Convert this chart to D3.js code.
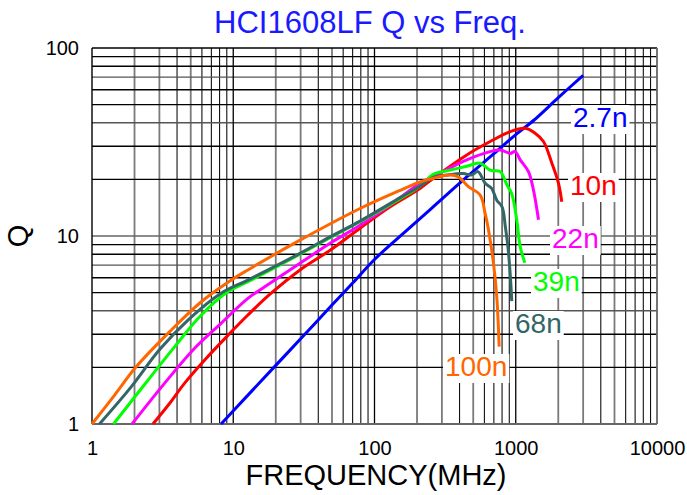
<!DOCTYPE html>
<html><head><meta charset="utf-8">
<script src="https://cdn.jsdelivr.net/npm/d3@7"></script>
<style>html,body{margin:0;padding:0;background:#fff;}svg{display:block;}</style>
</head><body>
<svg id="chart" width="687" height="495"></svg>
<script>
// ---- data ----
const xTickLabels = [1, 10, 100, 1000, 10000];
const yTickLabels = [1, 10, 100];

const f2n7 = [8.2, 12, 20, 30, 50, 70, 100, 150, 250, 450, 700, 1000, 1350, 2000, 3000];
const q2n7 = [1, 1.36, 2.05, 2.84, 4.29, 5.62, 7.5, 9.9, 13.9, 20.6, 27.4, 34.6, 41.4, 54.4, 71.6];

const f10n = [2.7, 3.55, 4.53, 6.28, 9.2, 12.7, 18.2, 29.7, 48.5, 79, 129, 210, 261, 450, 659, 912, 1167, 1371, 1571, 1802, 2006, 2118];
const q10n = [1, 1.29, 1.65, 2.19, 2.97, 3.8, 4.9, 6.6, 8.4, 11.0, 14.3, 17.9, 20.3, 27, 31.8, 35.9, 37.4, 35.2, 31.8, 24.4, 19.1, 15.2];

const f22n = [1.92, 3.27, 5.33, 8.2, 12.7, 18.2, 29.7, 48.5, 79, 129, 210, 261, 450, 659, 777, 912, 990, 1075, 1230, 1334, 1449];
const q22n = [1, 1.65, 2.53, 3.43, 4.66, 5.6, 7.16, 9.15, 11.4, 14.6, 19.1, 20.7, 25.4, 28.1, 28.7, 27.5, 28.1, 25.4, 22, 17.6, 12.2];

const f39n = [1.42, 2.49, 3.85, 5.94, 9.2, 12.7, 29.7, 48.5, 79, 152, 210, 261, 343, 450, 560, 659, 777, 865, 937, 1016, 1075, 1160];
const q39n = [1, 1.71, 2.58, 3.8, 5.06, 5.71, 8.0, 9.8, 11.9, 15.8, 18.4, 21.3, 22.4, 23.5, 24.4, 22.4, 22.0, 18.7, 16.8, 12.2, 8.8, 7.2];

const f68n = [1.13, 1.9, 3.0, 4.78, 8.2, 12.7, 29.7, 48.5, 79, 152, 210, 261, 325, 424, 486, 540, 607, 675, 734, 800, 844, 888, 937];
const q68n = [1, 1.58, 2.48, 3.57, 4.96, 5.83, 8.09, 9.9, 12.0, 16.0, 18.4, 20.5, 21.1, 21.5, 21.1, 22, 19.1, 17.9, 15.5, 14.3, 11.2, 8.2, 4.5];

const f100n = [1, 1.45, 2.06, 3.55, 5.94, 9.7, 12.7, 29.7, 79, 152, 210, 261, 343, 393, 462, 560, 607, 641, 695, 734, 763];
const q100n = [1, 1.43, 2.02, 3.1, 4.47, 5.83, 6.6, 9.5, 14.0, 17.5, 19.4, 20.3, 21.1, 20.6, 18.3, 16.5, 13.2, 10.8, 7.2, 4.75, 2.58];

const seriesNames = ["2.7n", "10n", "22n", "39n", "68n", "100n"];
const seriesColors = ["#0000ff", "#ff0000", "#ff00ff", "#00ff00", "#336666", "#ff6600"];
const seriesF = [f2n7, f10n, f22n, f39n, f68n, f100n];
const seriesQ = [q2n7, q10n, q22n, q39n, q68n, q100n];

// ---- layout ----
const labelPos = [[573, 127], [570, 195], [552, 248], [533, 291], [515, 333], [445, 376]];

// ---- drawing ----
const svg = d3.select("#chart");
const x = d3.scaleLog().domain([1, 10000]).range([92, 657]);
const y = d3.scaleLog().domain([1, 100]).range([424, 48]);

const grid = svg.append("g");
const decadesX = [1, 10, 100, 1000];
const mult = [2, 3, 4, 5, 6, 7, 8, 9];
const grayMult = [2, 3, 5];
decadesX.forEach(d => mult.forEach(m => {
  const v = d * m;
  grid.append("line").attr("x1", x(v)).attr("x2", x(v)).attr("y1", y(1)).attr("y2", y(100))
    .attr("stroke", grayMult.includes(m) ? "#7a7a7a" : "#111")
    .attr("stroke-width", grayMult.includes(m) ? 1.8 : 1.1);
}));
[1, 10].forEach(d => mult.forEach(m => {
  const v = d * m;
  grid.append("line").attr("x1", x(1)).attr("x2", x(10000)).attr("y1", y(v)).attr("y2", y(v))
    .attr("stroke", [4, 7].includes(m) ? "#555" : "#000")
    .attr("stroke-width", 1.4);
}));
[10, 100, 1000].forEach(v => grid.append("line").attr("x1", x(v)).attr("x2", x(v))
  .attr("y1", y(1)).attr("y2", y(100)).attr("stroke", "#000").attr("stroke-width", 1.3));
grid.append("line").attr("x1", x(1)).attr("x2", x(10000)).attr("y1", y(10)).attr("y2", y(10))
  .attr("stroke", "#666").attr("stroke-width", 1.6);
// frame
grid.append("line").attr("x1", x(1)).attr("x2", x(10000)).attr("y1", y(100)).attr("y2", y(100)).attr("stroke", "#000").attr("stroke-width", 1.4);
grid.append("line").attr("x1", x(1)).attr("x2", x(10000)).attr("y1", y(1)).attr("y2", y(1)).attr("stroke", "#666").attr("stroke-width", 1.8);
grid.append("line").attr("x1", x(1)).attr("x2", x(1)).attr("y1", y(1)).attr("y2", y(100)).attr("stroke", "#000").attr("stroke-width", 1.4);
grid.append("line").attr("x1", x(10000)).attr("x2", x(10000)).attr("y1", y(1)).attr("y2", y(100)).attr("stroke", "#666").attr("stroke-width", 1.8);

// curves
const line = d3.line().x(d => x(d[0])).y(d => y(d[1])).curve(d3.curveCatmullRom.alpha(0.5));
seriesNames.forEach((n, i) => {
  const pts = seriesF[i].map((f, k) => [f, seriesQ[i][k]]);
  svg.append("path").attr("d", line(pts)).attr("fill", "none")
    .attr("stroke", seriesColors[i]).attr("stroke-width", 3).attr("stroke-linejoin", "round");
});

// end labels with white boxes
const font = "'Liberation Sans', Arial, sans-serif";
seriesNames.forEach((n, i) => {
  const g = svg.append("g");
  const t = g.append("text").attr("x", labelPos[i][0]).attr("y", labelPos[i][1])
    .attr("font-family", font).attr("font-size", 28).attr("fill", seriesColors[i]).text(n);
  const b = t.node().getBBox();
  g.insert("rect", "text").attr("x", b.x - 2).attr("y", b.y + 3).attr("width", b.width + 4)
    .attr("height", b.height - 2).attr("fill", "#fff");
});

// axes tick labels
const xAxis = d3.axisBottom(x).tickValues(xTickLabels).tickFormat(d3.format("d")).tickSize(0).tickPadding(0);
const gx = svg.append("g").attr("transform", "translate(0,441)").call(xAxis);
gx.select(".domain").remove();
gx.selectAll("text").attr("font-family", font).attr("font-size", 20).attr("fill", "#000").attr("dy", "0.71em");

const yAxis = d3.axisLeft(y).tickValues(yTickLabels).tickFormat(d3.format("d")).tickSize(0).tickPadding(0);
const gy = svg.append("g").attr("transform", "translate(79,0)").call(yAxis);
gy.select(".domain").remove();
gy.selectAll("text").attr("font-family", font).attr("font-size", 20).attr("fill", "#000");

// titles
svg.append("text").attr("x", 370).attr("y", 33).attr("text-anchor", "middle")
  .attr("font-family", font).attr("font-size", 31).attr("fill", "#1a1aff").text("HCI1608LF Q vs Freq.");
svg.append("text").attr("x", 376).attr("y", 485).attr("text-anchor", "middle")
  .attr("font-family", font).attr("font-size", 29).attr("fill", "#000").text("FREQUENCY(MHz)");
svg.append("text").attr("transform", "translate(28,236) rotate(-90)").attr("text-anchor", "middle")
  .attr("font-family", font).attr("font-size", 29).attr("fill", "#000").text("Q");
</script>
</body></html>
